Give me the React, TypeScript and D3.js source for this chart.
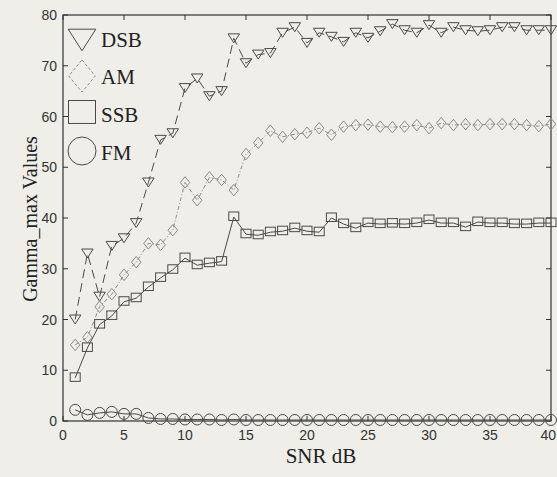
import React from 'react';
import * as d3 from 'd3';

const snr = [1, 2, 3, 4, 5, 6, 7, 8, 9, 10, 11, 12, 13, 14, 15, 16, 17, 18, 19, 20,
  21, 22, 23, 24, 25, 26, 27, 28, 29, 30, 31, 32, 33, 34, 35, 36, 37, 38, 39, 40];

const dsb = [20, 33, 24.5, 34.5, 36, 39, 47, 55.4, 56.7, 65.6, 67.5, 64, 65, 75.4, 70.5, 72.2, 72.5, 76.5, 77.6, 74.5,
  76.5, 75.7, 74.7, 76.5, 75.5, 76.8, 78.2, 77, 76.5, 78, 76.5, 77.6, 77, 76.8, 77, 77.6, 77.6, 77, 77, 77];

const am = [15, 16.5, 22.5, 25, 28.8, 31.3, 35, 34.7, 37.6, 47, 43.5, 48, 47.5, 45.5, 52.6, 54.8, 57.2, 56, 56.5, 56.8,
  57.7, 56.4, 58, 58.3, 58.4, 58, 57.9, 58, 58.3, 57.7, 58.7, 58.3, 58.5, 58.3, 58.5, 58.5, 58.5, 58.3, 58.1, 58.5];

const ssb = [8.5, 14.4, 19, 20.7, 23.5, 24.2, 26.4, 28.2, 29.8, 32.1, 30.7, 31.1, 31.4, 40.2, 36.8, 36.6, 37.2, 37.4, 38, 37.4,
  37.2, 40, 38.8, 38, 39, 38.8, 38.9, 38.8, 39, 39.6, 39, 39, 38.2, 39.2, 39, 39, 38.8, 38.8, 39, 39];

const fm = [2.2, 1.2, 1.6, 1.8, 1.4, 1.4, 0.6, 0.4, 0.4, 0.3, 0.3, 0.3, 0.2, 0.3, 0.2, 0.2, 0.2, 0.2, 0.2, 0.2,
  0.2, 0.2, 0.2, 0.2, 0.2, 0.2, 0.2, 0.2, 0.2, 0.2, 0.2, 0.2, 0.2, 0.2, 0.2, 0.2, 0.2, 0.2, 0.2, 0.2];

const xTicks = [0, 5, 10, 15, 20, 25, 30, 35, 40];
const yTicks = [0, 10, 20, 30, 40, 50, 60, 70, 80];

const W = 557;
const H = 477;
const left = 63, right = 551, top = 15, bottom = 421;

const x = d3.scaleLinear().domain([0, 40]).range([left, right]);
const y = d3.scaleLinear().domain([0, 80]).range([bottom, top]);

const tri = (cx, cy, w, h) => `M${cx - w / 2},${cy - h / 2}L${cx + w / 2},${cy - h / 2}L${cx},${cy + h / 2}Z`;
const dia = (cx, cy, w, h) => `M${cx},${cy - h / 2}L${cx + w / 2},${cy}L${cx},${cy + h / 2}L${cx - w / 2},${cy}Z`;

const series = [
  { name: 'DSB', values: dsb, color: '#4a4a4a', dash: '9,5', marker: 'tri' },
  { name: 'AM', values: am, color: '#8a8a8a', dash: '4,2,1,2', marker: 'dia' },
  { name: 'SSB', values: ssb, color: '#4a4a4a', dash: null, marker: 'sq' },
  { name: 'FM', values: fm, color: '#4a4a4a', dash: null, marker: 'circ' },
];

function Marker({ type, cx, cy, s, color }) {
  if (type === 'tri') return <path d={tri(cx, cy, s * 1.15, s * 0.9)} fill="none" stroke={color} />;
  if (type === 'dia') return <path d={dia(cx, cy, s * 0.95, s * 1.15)} fill="none" stroke={color} strokeDasharray={s > 15 ? '3,2' : null} />;
  if (type === 'sq') return <rect x={cx - s / 2} y={cy - s / 2} width={s} height={s * 0.85} fill="none" stroke={color} />;
  return <circle cx={cx} cy={cy} r={s / 2} fill="none" stroke={color} />;
}

export default function App() {
  const line = d3.line<number>().x((_, i) => x(snr[i])).y(d => y(d));
  const tickFont = 'Liberation Sans, Arial, sans-serif';
  const serif = 'Liberation Serif, Times New Roman, serif';
  return (
    <svg width={W} height={H} style={{ position: 'absolute', left: 0, top: 0 }}>
      <rect width={W} height={H} fill="#efeee9" />
      {/* frame */}
      <rect x={left} y={top} width={right - left} height={bottom - top} fill="none" stroke="#333" strokeWidth={1.2} />
      {xTicks.map(t => (
        <g key={'x' + t}>
          <line x1={x(t)} x2={x(t)} y1={bottom} y2={bottom - 5} stroke="#333" />
          <line x1={x(t)} x2={x(t)} y1={top} y2={top + 5} stroke="#333" />
          <text x={t === 40 ? W - 1 : x(t)} y={440} textAnchor={t === 40 ? 'end' : 'middle'} fontFamily={tickFont} fontSize={14} fill="#333">{t}</text>
        </g>
      ))}
      {yTicks.map(t => (
        <g key={'y' + t}>
          <line x1={left} x2={left + 5} y1={y(t)} y2={y(t)} stroke="#333" />
          <line x1={right} x2={right - 5} y1={y(t)} y2={y(t)} stroke="#333" />
          <text x={57} y={y(t) + 5} textAnchor="end" fontFamily={tickFont} fontSize={14} fill="#333">{t}</text>
        </g>
      ))}
      {series.map(s => (
        <g key={s.name}>
          <path d={line(s.values)} fill="none" stroke={s.color} strokeWidth={1} strokeDasharray={s.dash} />
          {s.values.map((v, i) => (
            <Marker key={i} type={s.marker} cx={x(snr[i])} cy={y(v)} s={s.marker === 'circ' ? 11 : 10} color={s.color} />
          ))}
        </g>
      ))}
      {/* legend */}
      {series.map((s, i) => (
        <g key={'lg' + s.name}>
          <Marker type={s.marker} cx={82} cy={[40, 76, 114, 151][i]} s={[24, 28, 27, 28][i]} color={s.color} />
          <text x={101} y={[47, 84, 122, 160][i]} fontFamily={serif} fontSize={21} fill="#222">{s.name}</text>
        </g>
      ))}
      <text x={321} y={463} textAnchor="middle" fontFamily={serif} fontSize={21} fill="#222">SNR dB</text>
      <text transform="translate(37,219) rotate(-90)" textAnchor="middle" fontFamily={serif} fontSize={20} fill="#222">Gamma_max Values</text>
    </svg>
  );
}
